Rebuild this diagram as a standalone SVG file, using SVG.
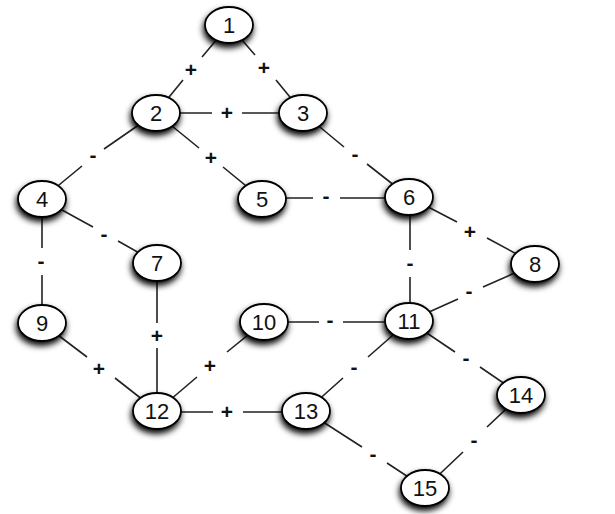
<svg xmlns="http://www.w3.org/2000/svg" width="615" height="514" viewBox="0 0 615 514">
<defs>
<filter id="sh" x="-50%" y="-50%" width="200%" height="200%">
<feGaussianBlur in="SourceAlpha" stdDeviation="3.2"/>
<feOffset dx="-1" dy="4" result="b"/>
<feComponentTransfer><feFuncA type="linear" slope="1"/></feComponentTransfer>
<feMerge><feMergeNode/><feMergeNode in="SourceGraphic"/></feMerge>
</filter>
<style>
.e{stroke:#222;stroke-width:1.6;fill:none}
.n ellipse{fill:#fff;stroke:#000;stroke-width:1.8}
.n text{font-family:"Liberation Sans",Arial,sans-serif;font-size:22px;text-anchor:middle;fill:#111}
.l{font-family:"Liberation Sans",Arial,sans-serif;font-size:21px;font-weight:bold;text-anchor:middle;fill:#111}
</style>
</defs>
<rect width="615" height="514" fill="#fff"/>
<g id="connectors">
<path class="e" d="M229,25L202,57M183,80L156,113"/><text class="l" x="191" y="77">+</text>
<path class="e" d="M229,25L255,55M276,80L303,113"/><text class="l" x="264" y="75">+</text>
<path class="e" d="M156,113L212,113M242,113L303,113"/><text class="l" x="227" y="120">+</text>
<path class="e" d="M156,113L104,149M82,166L42,199"/><text class="l" x="93" y="162">-</text>
<path class="e" d="M156,113L199,148M223,167L262,199"/><text class="l" x="211" y="165">+</text>
<path class="e" d="M303,113L344,147M367,164L409,197"/><text class="l" x="355" y="161">-</text>
<path class="e" d="M42,199L93,227M118,241L157,263"/><text class="l" x="104" y="241">-</text>
<path class="e" d="M42,199L42,248M42,275L42,323"/><text class="l" x="41" y="268">-</text>
<path class="e" d="M262,198L313,198M340,198L409,198"/><text class="l" x="326" y="203">-</text>
<path class="e" d="M409,197L457,222M487,238L535,264"/><text class="l" x="470" y="239">+</text>
<path class="e" d="M410,197L410,250M410,277L410,321"/><text class="l" x="410" y="270">-</text>
<path class="e" d="M535,264L483,287M458,299L409,321"/><text class="l" x="469" y="298">-</text>
<path class="e" d="M157,263L157,323M157,348L157,411"/><text class="l" x="157" y="343">+</text>
<path class="e" d="M42,323L87,357M115,378L157,411"/><text class="l" x="99" y="376">+</text>
<path class="e" d="M264,322L227,352M197,377L157,411"/><text class="l" x="210" y="373">+</text>
<path class="e" d="M264,322L319,322M343,322L409,322"/><text class="l" x="330" y="327">-</text>
<path class="e" d="M409,321L368,357M343,378L306,411"/><text class="l" x="354" y="374">-</text>
<path class="e" d="M409,321L455,352M480,367L521,395"/><text class="l" x="466" y="365">-</text>
<path class="e" d="M157,412L213,412M243,412L306,412"/><text class="l" x="227" y="419">+</text>
<path class="e" d="M306,411L362,447M387,463L425,488"/><text class="l" x="373" y="461">-</text>
<path class="e" d="M521,395L487,427M463,452L425,488"/><text class="l" x="474" y="447">-</text>
</g>
<g id="n1" class="n"><ellipse cx="229" cy="25" rx="24" ry="18" filter="url(#sh)"/><text x="229" y="33">1</text></g>
<g id="n2" class="n"><ellipse cx="156" cy="113" rx="24" ry="18" filter="url(#sh)"/><text x="156" y="121">2</text></g>
<g id="n3" class="n"><ellipse cx="303" cy="113" rx="24" ry="18" filter="url(#sh)"/><text x="303" y="121">3</text></g>
<g id="n4" class="n"><ellipse cx="42" cy="199" rx="24" ry="18" filter="url(#sh)"/><text x="42" y="207">4</text></g>
<g id="n5" class="n"><ellipse cx="262" cy="199" rx="24" ry="18" filter="url(#sh)"/><text x="262" y="207">5</text></g>
<g id="n6" class="n"><ellipse cx="409" cy="197" rx="24" ry="18" filter="url(#sh)"/><text x="409" y="205">6</text></g>
<g id="n7" class="n"><ellipse cx="157" cy="263" rx="24" ry="18" filter="url(#sh)"/><text x="157" y="271">7</text></g>
<g id="n8" class="n"><ellipse cx="535" cy="264" rx="24" ry="18" filter="url(#sh)"/><text x="535" y="272">8</text></g>
<g id="n9" class="n"><ellipse cx="42" cy="323" rx="24" ry="18" filter="url(#sh)"/><text x="42" y="331">9</text></g>
<g id="n10" class="n"><ellipse cx="264" cy="322" rx="24" ry="18" filter="url(#sh)"/><text x="264" y="330">10</text></g>
<g id="n11" class="n"><ellipse cx="409" cy="321" rx="24" ry="18" filter="url(#sh)"/><text x="409" y="329">11</text></g>
<g id="n12" class="n"><ellipse cx="157" cy="411" rx="24" ry="18" filter="url(#sh)"/><text x="157" y="419">12</text></g>
<g id="n13" class="n"><ellipse cx="306" cy="411" rx="24" ry="18" filter="url(#sh)"/><text x="306" y="419">13</text></g>
<g id="n14" class="n"><ellipse cx="521" cy="395" rx="24" ry="18" filter="url(#sh)"/><text x="521" y="403">14</text></g>
<g id="n15" class="n"><ellipse cx="425" cy="488" rx="24" ry="18" filter="url(#sh)"/><text x="425" y="496">15</text></g>
</svg>
